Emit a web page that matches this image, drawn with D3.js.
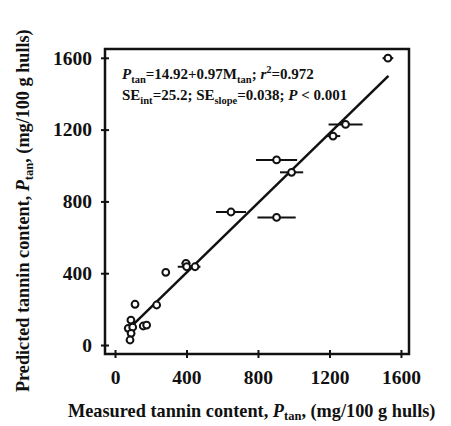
<!DOCTYPE html>
<html>
<head>
<meta charset="utf-8">
<script src="https://cdn.jsdelivr.net/npm/d3@7"></script>
<style>
  body { margin: 0; background: #fff; }
  text { font-family: "Liberation Serif", "Times New Roman", serif; font-weight: bold; fill: #111; }
</style>
</head>
<body>
<div class="scatter_wrapper"></div>
<script>
// measured (x), predicted (y), horizontal error half-width
const measured  = [1527, 1290, 1220, 904, 988, 649, 904, 397, 401, 448, 284, 112, 233, 89, 74, 99, 90, 84, 158, 177]
const predicted = [1598, 1229, 1164, 1031, 962, 741, 711, 455, 436, 436, 405, 227, 223, 139, 93, 99, 65, 28, 106, 111]
const errX      = [30, 95, 40, 115, 65, 84, 107, 25, 50, 30, 20, 18, 15, 15, 15, 10, 10, 0, 15, 10]
const tickVals = [0, 400, 800, 1200, 1600]
const fitLine = { a: 14.92, b: 0.97, from: 90, to: 1530 }

const dimensions = {
  width: 451,
  height: 426,
  margin: { top: 49, right: 42, bottom: 72, left: 105 },
}
dimensions.boundedWidth = dimensions.width - dimensions.margin.left - dimensions.margin.right
dimensions.boundedHeight = dimensions.height - dimensions.margin.top - dimensions.margin.bottom

const wrapper = d3.select(".scatter_wrapper")
  .append("svg")
    .attr("width", dimensions.width)
    .attr("height", dimensions.height)

const bounds = wrapper.append("g")
  .attr("transform", `translate(${dimensions.margin.left},${dimensions.margin.top})`)

const xScale = d3.scaleLinear()
  .domain([-56, 1645])
  .range([0, dimensions.boundedWidth])

const yScale = d3.scaleLinear()
  .domain([-50, 1649])
  .range([dimensions.boundedHeight, 0])

// frame
bounds.append("rect")
  .attr("width", dimensions.boundedWidth)
  .attr("height", dimensions.boundedHeight)
  .attr("fill", "none")
  .attr("stroke", "#111")
  .attr("stroke-width", 2.5)

const xAxis = d3.axisBottom(xScale)
  .tickValues(tickVals)
  .tickSize(0)
  .tickPadding(16)
  .tickFormat(d3.format("d"))

const yAxis = d3.axisLeft(yScale)
  .tickValues(tickVals)
  .tickSize(0)
  .tickPadding(13)
  .tickFormat(d3.format("d"))

const xg = bounds.append("g")
  .attr("transform", `translate(0,${dimensions.boundedHeight})`)
  .call(xAxis)
xg.select(".domain").remove()
xg.selectAll(".tick text").style("font-size", "19.5px").attr("font-family", null)
xg.selectAll(".tick").append("line")
  .attr("y1", -4).attr("y2", 4)
  .attr("stroke", "#111").attr("stroke-width", 2)

const yg = bounds.append("g").call(yAxis)
yg.select(".domain").remove()
yg.selectAll(".tick text").style("font-size", "19.5px").attr("font-family", null)
yg.selectAll(".tick").append("line")
  .attr("x1", -4).attr("x2", 4)
  .attr("stroke", "#111").attr("stroke-width", 2)

// regression line
bounds.append("line")
  .attr("x1", xScale(fitLine.from))
  .attr("y1", yScale(fitLine.a + fitLine.b * fitLine.from))
  .attr("x2", xScale(fitLine.to))
  .attr("y2", yScale(fitLine.a + fitLine.b * fitLine.to))
  .attr("stroke", "#111")
  .attr("stroke-width", 2.5)

const points = measured.map((m, i) => ({ x: m, y: predicted[i], e: errX[i] }))

bounds.selectAll(".errbar")
  .data(points.filter(d => d.e > 0))
  .enter()
  .append("line")
    .attr("class", "errbar")
    .attr("x1", d => xScale(d.x - d.e))
    .attr("x2", d => xScale(d.x + d.e))
    .attr("y1", d => yScale(d.y))
    .attr("y2", d => yScale(d.y))
    .attr("stroke", "#111")
    .attr("stroke-width", 2)

bounds.selectAll(".pt")
  .data(points)
  .enter()
  .append("circle")
    .attr("class", "pt")
    .attr("cx", d => xScale(d.x))
    .attr("cy", d => yScale(d.y))
    .attr("r", 3.4)
    .attr("fill", "#fff")
    .attr("stroke", "#111")
    .attr("stroke-width", 2)

// equation text
const eq = bounds.append("text")
  .attr("x", 17).attr("y", 30)
  .style("font-size", "15px")
eq.append("tspan").attr("font-style", "italic").text("P")
eq.append("tspan").attr("dy", 4).style("font-size", "10.5px").text("tan")
eq.append("tspan").attr("dy", -4).text("=14.92+0.97M")
eq.append("tspan").attr("dy", 4).style("font-size", "10.5px").text("tan")
eq.append("tspan").attr("dy", -4).text("; ")
eq.append("tspan").attr("font-style", "italic").text("r")
eq.append("tspan").attr("dy", -6).style("font-size", "10.5px").text("2")
eq.append("tspan").attr("dy", 6).text("=0.972")

const se = bounds.append("text")
  .attr("x", 17).attr("y", 51)
  .style("font-size", "15px")
se.append("tspan").text("SE")
se.append("tspan").attr("dy", 4).style("font-size", "10.5px").text("int")
se.append("tspan").attr("dy", -4).text("=25.2; SE")
se.append("tspan").attr("dy", 4).style("font-size", "10.5px").text("slope")
se.append("tspan").attr("dy", -4).text("=0.038;  ")
se.append("tspan").attr("font-style", "italic").text("P")
se.append("tspan").text(" < 0.001")

// axis titles
const xt = wrapper.append("text")
  .attr("x", 68).attr("y", 417)
  .style("font-size", "18.3px")
xt.append("tspan").text("Measured tannin content, ")
xt.append("tspan").attr("font-style", "italic").text("P")
xt.append("tspan").attr("dy", 3).style("font-size", "12.5px").text("tan")
xt.append("tspan").attr("dy", -3).text(", (mg/100 g hulls)")

const yt = wrapper.append("text")
  .attr("transform", "translate(29,392) rotate(-90)")
  .style("font-size", "18.2px")
yt.append("tspan").text("Predicted tannin content, ")
yt.append("tspan").attr("font-style", "italic").text("P")
yt.append("tspan").attr("dy", 4).style("font-size", "12.5px").text("tan")
yt.append("tspan").attr("dy", -4).text(", (mg/100 g hulls)")
</script>
</body>
</html>
